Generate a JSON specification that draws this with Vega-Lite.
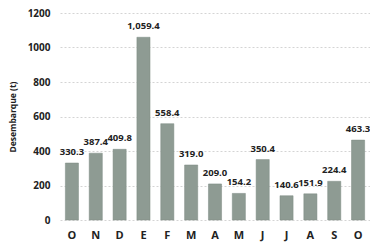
{
  "$schema": "https://vega.github.io/schema/vega-lite/v6.json",
  "width": 310,
  "height": 207,
  "autosize": {"type": "none"},
  "padding": {"left": 60, "top": 13, "right": 0, "bottom": 26},
  "background": "white",
  "config": {"view": {"stroke": null}, "font": "Open Sans"},
  "data": {
    "values": [
      {"i": 1, "mes": "O", "valor": 330.3},
      {"i": 2, "mes": "N", "valor": 387.4},
      {"i": 3, "mes": "D", "valor": 409.8},
      {"i": 4, "mes": "E", "valor": 1059.4},
      {"i": 5, "mes": "F", "valor": 558.4},
      {"i": 6, "mes": "M", "valor": 319.0},
      {"i": 7, "mes": "A", "valor": 209.0},
      {"i": 8, "mes": "M", "valor": 154.2},
      {"i": 9, "mes": "J", "valor": 350.4},
      {"i": 10, "mes": "J", "valor": 140.6},
      {"i": 11, "mes": "A", "valor": 151.9},
      {"i": 12, "mes": "S", "valor": 224.4},
      {"i": 13, "mes": "O", "valor": 463.3}
    ]
  },
  "encoding": {
    "x": {
      "field": "i",
      "type": "ordinal",
      "scale": {"paddingInner": 0.45, "paddingOuter": 0.225},
      "axis": {
        "title": null,
        "labelExpr": "['O','N','D','E','F','M','A','M','J','J','A','S','O'][datum.value-1]",
        "labelAngle": 0,
        "labelFont": "Open Sans",
        "labelFontWeight": "bold",
        "labelFontSize": 11,
        "labelColor": "#222222",
        "labelPadding": 9,
        "domain": false,
        "ticks": false
      }
    },
    "y": {
      "field": "valor",
      "type": "quantitative",
      "scale": {"domain": [0, 1200]},
      "axis": {
        "title": "Desembarque (t)",
        "titleFont": "Open Sans",
        "titleFontWeight": "bold",
        "titleFontSize": 8.5,
        "titleColor": "#222222",
        "titlePadding": 10,
        "values": [0, 200, 400, 600, 800, 1000, 1200],
        "format": "d",
        "labelFont": "Open Sans",
        "labelFontWeight": "bold",
        "labelFontSize": 10,
        "labelColor": "#222222",
        "labelPadding": 10,
        "domain": false,
        "ticks": false,
        "gridColor": "#d4d4d4",
        "gridDash": [2, 2],
        "gridWidth": 1
      }
    }
  },
  "layer": [
    {
      "mark": {"type": "bar", "color": "#8e9b93", "stroke": "#7c8a82", "strokeWidth": 0.5}
    },
    {
      "mark": {
        "type": "text",
        "baseline": "bottom",
        "dy": -6,
        "font": "Open Sans",
        "fontWeight": "bold",
        "fontSize": 9.5,
        "color": "#222222"
      },
      "encoding": {"text": {"field": "valor", "type": "quantitative", "format": ",.1f"}}
    }
  ]
}
